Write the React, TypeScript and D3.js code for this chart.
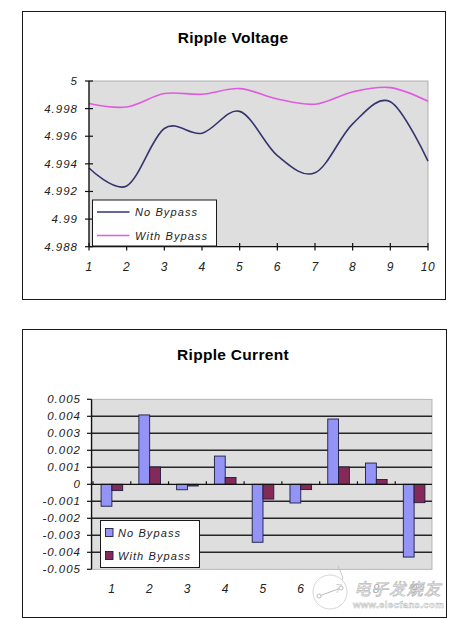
import React from 'react';
import * as d3 from 'd3';

// ripple voltage (top chart)
const voltageCats = ['1', '2', '3', '4', '5', '6', '7', '8', '9', '10'];
const noBypassV = [4.9937, 4.9924, 4.99656, 4.99622, 4.9978, 4.9946, 4.99335, 4.9969, 4.9985, 4.9942];
const withBypassV = [4.99837, 4.99812, 4.99909, 4.99904, 4.99945, 4.9987, 4.99832, 4.99921, 4.99952, 4.99853];
const voltageTicks = [4.988, 4.99, 4.992, 4.994, 4.996, 4.998, 5];

// ripple current (bottom chart)
const currentCats = ['1', '2', '3', '4', '5', '6', '7', '8', '9'];
const noBypassI = [-0.00129, 0.00408, -0.00032, 0.00166, -0.00341, -0.0011, 0.00384, 0.00125, -0.00428];
const withBypassI = [-0.00037, 0.00102, -0.0001, 0.0004, -0.00087, -0.00031, 0.00102, 0.00028, -0.00108];
const currentTicks = [-0.005, -0.004, -0.003, -0.002, -0.001, 0, 0.001, 0.002, 0.003, 0.004, 0.005];

const seriesNames = ['No Bypass', 'With Bypass'];

const FONT = "'Liberation Sans', Arial, sans-serif";
const PLOT_BG = '#dedede';
const NAVY = '#34346f';
const MAGENTA = '#df5ce0';
const BLUE = '#9494f6';
const MAROON = '#842a58';

const VoltageChart = () => {
  const x = d3.scalePoint().domain(voltageCats).range([89, 428]);
  const y = d3.scaleLinear().domain([4.988, 5]).range([246.7, 81]);
  const line = d3.line<number>()
    .x((_, i) => x(voltageCats[i])!)
    .y(d => y(d))
    .curve(d3.curveCardinal.tension(0));
  const fmt = (v: number) => String(+v.toFixed(3));

  return (
    <g>
      <rect x={22.5} y={11.5} width={423} height={288} fill="#fff" stroke="#1a1a1a" strokeWidth={1} />
      <text x={233} y={42.5} textAnchor="middle" fontFamily={FONT} fontWeight="bold" fontSize={15.5} letterSpacing={0.3}>
        Ripple Voltage
      </text>
      <rect x={89} y={81} width={339} height={165.7} fill={PLOT_BG} stroke="#a0a0a0" strokeWidth={0.8} />
      <path d={line(noBypassV)!} fill="none" stroke={NAVY} strokeWidth={1.6} />
      <path d={line(withBypassV)!} fill="none" stroke={MAGENTA} strokeWidth={1.6} />
      {/* y axis */}
      <line x1={89} x2={89} y1={81} y2={246.7} stroke="#111" strokeWidth={1.3} />
      {voltageTicks.map(t => (
        <g key={t}>
          <line x1={85} x2={93} y1={y(t)} y2={y(t)} stroke="#111" strokeWidth={1.2} />
          <text x={78} y={y(t) + 4} textAnchor="end" fontFamily={FONT} fontStyle="italic" fontSize={11.5} letterSpacing={1} fill="#222">
            {fmt(t)}
          </text>
        </g>
      ))}
      {/* x axis */}
      <line x1={89} x2={428} y1={246.7} y2={246.7} stroke="#111" strokeWidth={1.3} />
      {voltageCats.map(c => (
        <g key={c}>
          <line x1={x(c)} x2={x(c)} y1={243} y2={250.5} stroke="#111" strokeWidth={1.2} />
          <text x={x(c)} y={271} textAnchor="middle" fontFamily={FONT} fontStyle="italic" fontSize={12} letterSpacing={0.5} fill="#222">
            {c}
          </text>
        </g>
      ))}
      {/* legend */}
      <rect x={92.5} y={200} width={124} height={46} fill="#fff" stroke="#1a1a1a" strokeWidth={1} />
      {seriesNames.map((n, i) => (
        <g key={n}>
          <line x1={97} x2={129.5} y1={212 + i * 23.5} y2={212 + i * 23.5} stroke={i ? MAGENTA : NAVY} strokeWidth={1.6} />
          <text x={135} y={216 + i * 23.5} fontFamily={FONT} fontStyle="italic" fontSize={11} letterSpacing={1.1} fill="#222">
            {n}
          </text>
        </g>
      ))}
    </g>
  );
};

const CurrentChart = () => {
  const x0 = d3.scaleBand().domain(currentCats).range([93, 433]).paddingInner(0.428).paddingOuter(0.214);
  const x1 = d3.scaleBand().domain(seriesNames).range([0, x0.bandwidth()]);
  const y = d3.scaleLinear().domain([-0.005, 0.005]).range([569.3, 399.3]);
  const fmt = (v: number) => (v === 0 ? '0' : v.toFixed(3));
  const step = x0.step();
  const series = [noBypassI, withBypassI];

  return (
    <g>
      <rect x={22.5} y={329.5} width={424} height={288} fill="#fff" stroke="#1a1a1a" strokeWidth={1} />
      <text x={233} y={360} textAnchor="middle" fontFamily={FONT} fontWeight="bold" fontSize={15.5} letterSpacing={0.3}>
        Ripple Current
      </text>
      <rect x={92} y={399.3} width={340} height={170} fill={PLOT_BG} stroke="#a8a8a8" strokeWidth={0.8} />
      {currentTicks.filter(t => Math.abs(t) < 0.005 && t !== 0).map(t => (
        <line key={t} x1={92} x2={432} y1={y(t)} y2={y(t)} stroke="#262626" strokeWidth={1.4} />
      ))}
      {series.map((vals, si) =>
        vals.map((v, i) => (
          <rect
            key={`${si}-${i}`}
            x={x0(currentCats[i])! + x1(seriesNames[si])!}
            y={y(Math.max(0, v))}
            width={x1.bandwidth()}
            height={Math.abs(y(v) - y(0))}
            fill={si ? MAROON : BLUE}
            stroke="#1d1d40"
            strokeWidth={0.9}
          />
        ))
      )}
      {/* zero line with category ticks */}
      <line x1={92} x2={432} y1={y(0)} y2={y(0)} stroke="#111" strokeWidth={1.3} />
      {currentCats.map((c, i) => (
        <line key={c} x1={93 + step * i} x2={93 + step * i} y1={y(0) - 3} y2={y(0)} stroke="#111" strokeWidth={1.2} />
      ))}
      {/* y axis */}
      <line x1={91.5} x2={91.5} y1={399.3} y2={569.3} stroke="#111" strokeWidth={1.3} />
      {currentTicks.map(t => (
        <g key={t}>
          <line x1={87} x2={91.5} y1={y(t)} y2={y(t)} stroke="#111" strokeWidth={1.2} />
          <text x={81} y={y(t) + 4} textAnchor="end" fontFamily={FONT} fontStyle="italic" fontSize={11.5} letterSpacing={1} fill="#222">
            {fmt(t)}
          </text>
        </g>
      ))}
      {currentCats.map(c => (
        <text key={c} x={x0(c)! + x0.bandwidth() / 2} y={592.5} textAnchor="middle" fontFamily={FONT} fontStyle="italic" fontSize={12} letterSpacing={0.5} fill="#222">
          {c}
        </text>
      ))}
      {/* legend */}
      <rect x={100.5} y={520.5} width={99} height={47} fill="#fff" stroke="#1a1a1a" strokeWidth={1} />
      {seriesNames.map((n, i) => (
        <g key={n}>
          <rect x={105.5} y={528.5 + i * 23} width={7.5} height={8} fill={i ? MAROON : BLUE} stroke="#1d1d40" strokeWidth={0.9} />
          <text x={118} y={537 + i * 23} fontFamily={FONT} fontStyle="italic" fontSize={11} letterSpacing={1.1} fill="#222">
            {n}
          </text>
        </g>
      ))}
    </g>
  );
};

const Watermark = () => (
  <g>
    <path d="M338,566 C342,575 345,580 340,586" fill="none" stroke="#bbb" strokeWidth={0.8} />
    <circle cx={330} cy={592} r={17} fill="#fff" fillOpacity={0.8} stroke="#d6d6d6" strokeWidth={1} />
    <line x1={319} x2={341} y1={596} y2={588} stroke="#bcbcbc" strokeWidth={1} />
    <circle cx={319} cy={596} r={2} fill="#fff" stroke="#bcbcbc" />
    <circle cx={341} cy={588} r={2} fill="#fff" stroke="#bcbcbc" />
    <rect x={348} y={578} width={96} height={31} fill="#fff" fillOpacity={0.6} />
    <text x={354} y={595} fontFamily="'Noto Sans CJK SC', sans-serif" fontSize={16.5} fontStyle="italic" letterSpacing={1}
      fill="#fff" stroke="#b8b8b8" strokeWidth={0.7}>
      电子发烧友
    </text>
    <text x={353} y={607.5} fontFamily={FONT} fontSize={9.5} fontWeight="bold" letterSpacing={0.4}
      fill="#fff" stroke="#b8b8b8" strokeWidth={0.5}>
      www.elecfans.com
    </text>
  </g>
);

export default function App() {
  return (
    <svg width={474} height={619} style={{ position: 'absolute', left: 0, top: 0, background: '#fff' }}>
      <VoltageChart />
      <CurrentChart />
      <Watermark />
    </svg>
  );
}
